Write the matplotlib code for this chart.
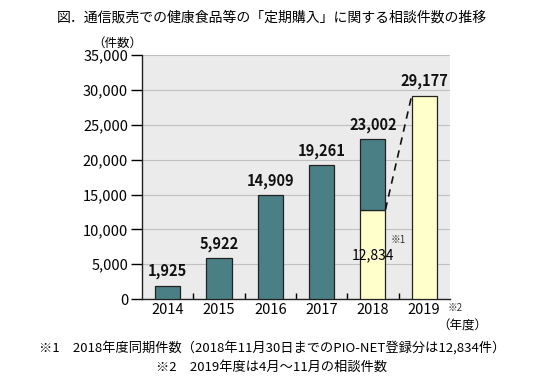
import numpy as np
import matplotlib
matplotlib.use("Agg")
from matplotlib import pyplot as plt

plt.rcParams['font.family'] = ['Noto Sans CJK JP', 'DejaVu Sans']

years = ["2014", "2015", "2016", "2017", "2018", "2019"]
counts = [1925, 5922, 14909, 19261, 23002, 29177]
same_period_2018 = 12834
yticks = [0, 5000, 10000, 15000, 20000, 25000, 30000, 35000]

teal = "#4a7f86"
cream = "#ffffcc"

fig = plt.figure(figsize=(5.44, 3.83), dpi=100)
ax = fig.add_axes([0.261, 0.219, 0.566, 0.637])
ax.set_facecolor("#ebebeb")

x = np.arange(len(years))
w = 0.49
for i, v in enumerate(counts):
    if years[i] == "2019":
        ax.bar(i, v, w, color=cream, edgecolor="#222222", linewidth=0.9, zorder=3)
    elif years[i] == "2018":
        ax.bar(i, same_period_2018, w, color=cream, edgecolor="#222222", linewidth=0.9, zorder=3)
        ax.bar(i, v - same_period_2018, w, bottom=same_period_2018, color=teal,
               edgecolor="#222222", linewidth=0.9, zorder=3)
    else:
        ax.bar(i, v, w, color=teal, edgecolor="#222222", linewidth=0.9, zorder=3)
    ax.text(i, v + 900, f"{v:,}", ha="center", va="bottom", fontsize=10.5,
            fontweight="bold", color="#111111", zorder=4)

# dashed connector 2018 (same period) -> 2019
i18 = years.index("2018")
i19 = years.index("2019")
ax.plot([i18 + w / 2, i19 - w / 2], [same_period_2018, counts[i19]],
        linestyle=(0, (4.5, 3.5)), color="#111111", linewidth=1.2, zorder=4)

ax.text(i18, 6300, f"{same_period_2018:,}", ha="center", va="center", fontsize=10, zorder=5)
ax.text(i18 + 0.49, 8500, "※1", ha="center", va="center", fontsize=7, color="#333333", zorder=5)

ax.set_xlim(-0.5, len(years) - 0.5)
ax.set_ylim(0, 35000)
ax.set_yticks(yticks)
ax.set_yticklabels([f"{t:,}" for t in yticks], fontsize=10.5)
ax.yaxis.grid(True, color="#c0c0c0", linewidth=0.8, zorder=0)
ax.tick_params(axis="y", direction="out", length=8, width=1, pad=2)

ax.set_xticks(x)
ax.set_xticklabels(years, fontsize=10.5)
ax.tick_params(axis="x", length=0, pad=3)
ax.set_xticks(np.arange(0.5, len(years) - 1), minor=True)
ax.tick_params(axis="x", which="minor", direction="in", length=4, width=1)

for s in ["top", "right"]:
    ax.spines[s].set_visible(False)
for s in ["left", "bottom"]:
    ax.spines[s].set_linewidth(1)
    ax.spines[s].set_color("#222222")

fig.text(0.5, 0.955, "図．通信販売での健康食品等の「定期購入」に関する相談件数の推移",
         ha="center", va="center", fontsize=10)
fig.text(0.215, 0.888, "（件数）", ha="center", va="center", fontsize=9)
fig.text(0.823, 0.196, "※2", ha="left", va="center", fontsize=7, color="#333333")
fig.text(0.85, 0.148, "（年度）", ha="center", va="center", fontsize=9)
fig.text(0.5, 0.092, "※1　2018年度同期件数（2018年11月30日までのPIO-NET登録分は12,834件）",
         ha="center", va="center", fontsize=9.5)
fig.text(0.5, 0.042, "※2　2019年度は4月～11月の相談件数",
         ha="center", va="center", fontsize=9.5)

fig.savefig("out.png", dpi=100)
